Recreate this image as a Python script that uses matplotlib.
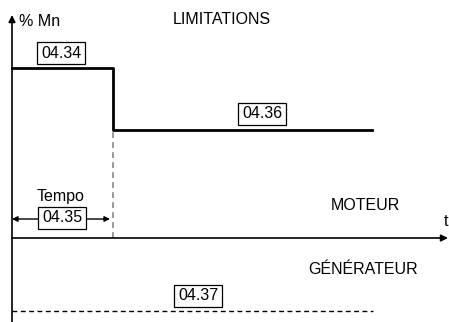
import matplotlib
matplotlib.use('Agg')
import matplotlib.pyplot as plt

plt.rcParams['font.family'] = ['Liberation Sans', 'DejaVu Sans']

# limite moteur (palier haut puis palier bas), unites = pixels du schema
t_moteur = [0, 101, 101, 360]
lim_moteur = [170, 170, 108, 108]
# limite generateur (pointilles)
t_gen = [0, 361]
lim_gen = [-73, -73]
t_tempo = 101

# etiquettes des parametres
labels = ['04.34', '04.36', '04.35', '04.37']
label_pos = [(49, 185), (250, 124), (50, 20), (186, -58)]

fig = plt.figure(figsize=(4.49, 3.22), dpi=100)
ax = fig.add_axes([0, 0, 1, 1])
ax.set_xlim(-12, 437)
ax.set_ylim(-84, 238)
ax.axis('off')

# axes du schema
ax.annotate('', xy=(0, 223), xytext=(0, -86),
            arrowprops=dict(arrowstyle='-|>', color='black', lw=1.2,
                            mutation_scale=10, shrinkA=0, shrinkB=0))
ax.annotate('', xy=(436, 0), xytext=(0, 0),
            arrowprops=dict(arrowstyle='-|>', color='black', lw=1.2,
                            mutation_scale=10, shrinkA=0, shrinkB=0))

# courbes de limitation
ax.plot(t_moteur, lim_moteur, color='black', lw=2)
ax.plot(t_gen, lim_gen, color='black', lw=1, ls=(0, (3.5, 2.5)))
ax.plot([t_tempo, t_tempo], [0, lim_moteur[-1]], color='#888888', lw=1.2,
        ls=(0, (3.5, 2.5)))

# fleche de la tempo
ax.annotate('', xy=(0, 19), xytext=(t_tempo - 3, 19),
            arrowprops=dict(arrowstyle='<|-|>', color='black', lw=1,
                            mutation_scale=8, shrinkA=0, shrinkB=0))

for lab, (x, y) in zip(labels, label_pos):
    ax.text(x, y, lab, ha='center', va='center', fontsize=11.5,
            bbox=dict(boxstyle='square,pad=0.25', fc='white', ec='black', lw=0.9))

ax.text(7, 217, '% Mn', fontsize=11.5, va='center')
ax.text(210, 218, 'LIMITATIONS', fontsize=11.5, ha='center', va='center')
ax.text(49, 41, 'Tempo', fontsize=11.5, ha='center', va='center')
ax.text(353, 33, 'MOTEUR', fontsize=11.5, ha='center', va='center')
ax.text(434, 17, 't', fontsize=11.5, ha='center', va='center')
ax.text(351, -31, 'GÉNÉRATEUR', fontsize=11.5, ha='center', va='center')

fig.savefig('out.png', dpi=100)
